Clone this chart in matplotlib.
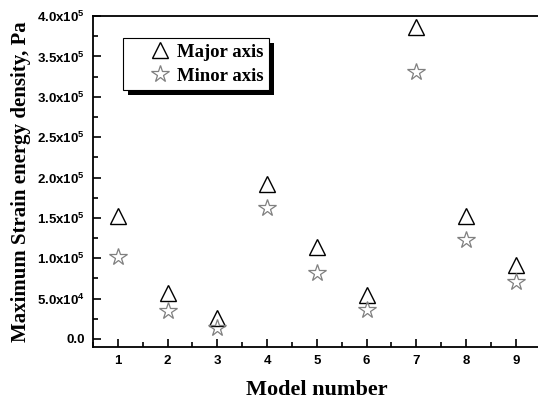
"""
Maximum strain energy density per model, major vs minor axis.
Writes out.png (538x403).
"""
import matplotlib
matplotlib.use("Agg")
import matplotlib.pyplot as plt
from matplotlib.patches import Rectangle
from matplotlib.transforms import IdentityTransform
from matplotlib.ticker import MultipleLocator

MODELS = [1, 2, 3, 4, 5, 6, 7, 8, 9]
MAJOR = [1.52e5, 0.57e5, 0.26e5, 1.92e5, 1.14e5, 0.54e5, 3.87e5, 1.52e5, 0.91e5]
MINOR = [1.02e5, 0.35e5, 0.14e5, 1.62e5, 0.82e5, 0.36e5, 3.31e5, 1.22e5, 0.70e5]

YTICKS = [0, 0.5e5, 1.0e5, 1.5e5, 2.0e5, 2.5e5, 3.0e5, 3.5e5, 4.0e5]
YTICK_LABELS = ["0.0", "5.0x10$^{4}$", "1.0x10$^{5}$", "1.5x10$^{5}$", "2.0x10$^{5}$",
                "2.5x10$^{5}$", "3.0x10$^{5}$", "3.5x10$^{5}$", "4.0x10$^{5}$"]

plt.rcParams["mathtext.default"] = "bf"
plt.rcParams["mathtext.fontset"] = "custom"
plt.rcParams["mathtext.bf"] = "Liberation Sans:bold"

SERIF = "Liberation Serif"
SANS = "Liberation Sans"

fig = plt.figure(figsize=(5.38, 4.03), dpi=100)
ax = fig.add_axes([0.1729, 0.139, 0.832, 0.821])

ax.plot(MODELS, MAJOR, "^", ms=12, mfc="none", mec="black", mew=1.0, label="Major axis")
ax.plot(MODELS, MINOR, "*", ms=13, mfc="none", mec="#808080", mew=0.9, label="Minor axis")

ax.set_xlim(0.5, 9.5)
ax.set_ylim(-1e4, 4.0e5)
ax.set_xticks(MODELS)
ax.xaxis.set_minor_locator(MultipleLocator(0.5))
ax.set_yticks(YTICKS)
ax.set_yticklabels(YTICK_LABELS)
ax.yaxis.set_minor_locator(MultipleLocator(0.25e5))

ax.tick_params(which="both", direction="in", width=1.2, pad=6)
ax.tick_params(which="major", length=6)
ax.tick_params(which="minor", length=3.5)
for lbl in ax.get_xticklabels() + ax.get_yticklabels():
    lbl.set_fontfamily(SANS); lbl.set_fontweight("bold"); lbl.set_fontsize(9.5)
for s in ax.spines.values():
    s.set_linewidth(1.3)

ax.set_xlabel("Model number", family=SERIF, weight="bold", fontsize=16, labelpad=9)
ax.set_ylabel("Maximum Strain energy density, Pa", family=SERIF, weight="bold",
              fontsize=15, labelpad=4)

leg = ax.legend(loc="upper left", bbox_to_anchor=(0.067, 0.933), borderaxespad=0,
                prop={"family": SERIF, "weight": "bold", "size": 13.5},
                fancybox=False, edgecolor="black", framealpha=1, labelspacing=0.35,
                handletextpad=-0.77, borderpad=0.3, handlelength=3.35)
leg.get_frame().set_linewidth(0.8)

# thick black drop shadow behind the legend box
fig.canvas.draw()
bb = leg.get_frame().get_window_extent()
ax.add_patch(Rectangle((bb.x0 + 4.5, bb.y0 - 4.5), bb.width, bb.height, transform=IdentityTransform(),
                       facecolor="black", edgecolor="none", zorder=4.9, clip_on=False))

fig.savefig("out.png", dpi=100)
